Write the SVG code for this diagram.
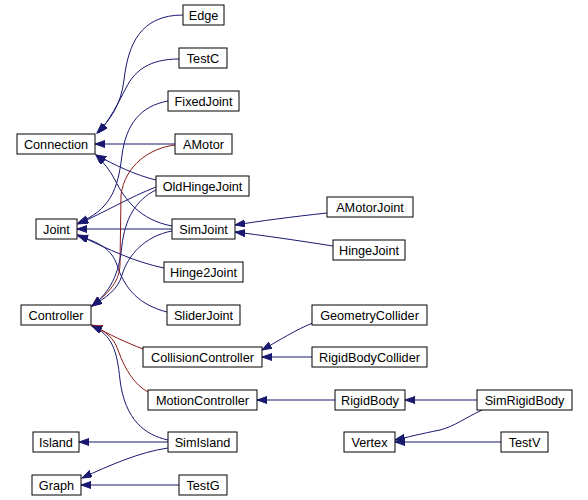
<svg xmlns="http://www.w3.org/2000/svg" width="588" height="500" viewBox="0 0 588 500">
<defs>
<style>
.n rect{fill:#fff;stroke:#000;stroke-width:1}
.n text{font-family:"Liberation Sans",Arial,Helvetica,sans-serif;font-size:12.7px;fill:#000;text-anchor:middle}
.e path{fill:none;stroke-width:1}
.b{stroke:#191970;marker-end:url(#ab)}
.r{stroke:#8b1a1a;marker-end:url(#ar)}
</style>
<marker id="ab" markerUnits="userSpaceOnUse" markerWidth="11" markerHeight="8" refX="10" refY="3.5" orient="auto"><path d="M0,0 L10,3.5 L0,7 z" fill="#191970" stroke="#191970"/></marker>
<marker id="ar" markerUnits="userSpaceOnUse" markerWidth="11" markerHeight="8" refX="10" refY="3.5" orient="auto"><path d="M0,0 L10,3.5 L0,7 z" fill="#8b1a1a" stroke="#8b1a1a"/></marker>
</defs>
<rect width="588" height="500" fill="#fff"/>
<g id="connectors" class="e">
<path class="b" d="M183,15 C140,15 128,45 124,80 C121,105 110,120 97,133"/>
<path class="b" d="M179,59 C150,59 135,70 126,88 C118,103 110,120 98,133"/>
<path class="b" d="M175,144 L95,144"/>
<path class="b" d="M156,180 C135,175 115,165 96,155"/>
<path class="b" d="M172,226 C140,220 125,200 115,180 C110,170 103,162 96,155"/>
<path class="b" d="M168,101 C140,106 126,125 122,155 C118,190 110,210 78,223"/>
<path class="b" d="M156,187 C130,197 105,212 78,224"/>
<path class="b" d="M172,229 L77,229"/>
<path class="b" d="M164,268 C135,262 110,250 78,235"/>
<path class="b" d="M167,312 C140,305 125,290 117,265 C112,250 100,242 78,236"/>
<path class="r" d="M175,145 C150,148 125,165 121,195 L120,265 C119,285 105,295 92,306"/>
<path class="b" d="M156,190 C135,200 125,220 122,245 C119,275 110,292 92,306"/>
<path class="b" d="M172,231 C145,236 128,255 122,275 C118,290 105,298 92,306"/>
<path class="r" d="M143,349 C125,342 110,335 92,325"/>
<path class="r" d="M148,392 C135,385 125,370 118,350 C114,338 105,330 92,326"/>
<path class="b" d="M168,440 C145,435 125,420 120,380 C117,350 112,335 92,326"/>
<path class="b" d="M168,442 L79,442"/>
<path class="b" d="M168,448 C140,452 110,465 82,478"/>
<path class="b" d="M179,485 L81,485"/>
<path class="b" d="M327,213 C290,217 260,221 235,225"/>
<path class="b" d="M333,246 C295,240 260,235 235,232"/>
<path class="b" d="M315,322 C295,330 280,340 262,350"/>
<path class="b" d="M312,357 L262,357"/>
<path class="b" d="M335,400 L257,400"/>
<path class="b" d="M477,400 L405,400"/>
<path class="b" d="M482,410 C465,418 455,426 440,430 C420,434 408,437 395,440"/>
<path class="b" d="M501,442 L395,442"/>
</g>
<g id="Edge" class="n"><rect x="183" y="5" width="41" height="20"/><text x="203.5" y="19.5">Edge</text></g>
<g id="TestC" class="n"><rect x="179" y="48" width="48" height="20"/><text x="203" y="62.5">TestC</text></g>
<g id="FixedJoint" class="n"><rect x="168" y="91" width="71" height="20"/><text x="203.5" y="105.5">FixedJoint</text></g>
<g id="AMotor" class="n"><rect x="175" y="134" width="57" height="20"/><text x="203.5" y="148.5">AMotor</text></g>
<g id="Connection" class="n"><rect x="17" y="134" width="78" height="20"/><text x="56" y="148.5">Connection</text></g>
<g id="OldHingeJoint" class="n"><rect x="156" y="176" width="93" height="20"/><text x="202.5" y="190.5">OldHingeJoint</text></g>
<g id="Joint" class="n"><rect x="36" y="219" width="41" height="20"/><text x="56.5" y="233.5">Joint</text></g>
<g id="SimJoint" class="n"><rect x="172" y="219" width="63" height="20"/><text x="203.5" y="233.5">SimJoint</text></g>
<g id="Hinge2Joint" class="n"><rect x="164" y="262" width="79" height="20"/><text x="203.5" y="276.5">Hinge2Joint</text></g>
<g id="Controller" class="n"><rect x="21" y="305" width="70" height="20"/><text x="56" y="319.5">Controller</text></g>
<g id="SliderJoint" class="n"><rect x="167" y="305" width="73" height="20"/><text x="203.5" y="319.5">SliderJoint</text></g>
<g id="CollisionController" class="n"><rect x="143" y="347" width="119" height="20"/><text x="202.5" y="361.5">CollisionController</text></g>
<g id="MotionController" class="n"><rect x="148" y="390" width="109" height="20"/><text x="202.5" y="404.5">MotionController</text></g>
<g id="Island" class="n"><rect x="33" y="432" width="46" height="20"/><text x="56" y="446.5">Island</text></g>
<g id="SimIsland" class="n"><rect x="168" y="432" width="69" height="20"/><text x="202.5" y="446.5">SimIsland</text></g>
<g id="Graph" class="n"><rect x="32" y="475" width="49" height="20"/><text x="56.5" y="489.5">Graph</text></g>
<g id="TestG" class="n"><rect x="179" y="475" width="48" height="20"/><text x="203" y="489.5">TestG</text></g>
<g id="AMotorJoint" class="n"><rect x="327" y="197" width="86" height="20"/><text x="370" y="211.5">AMotorJoint</text></g>
<g id="HingeJoint" class="n"><rect x="333" y="240" width="72" height="20"/><text x="369" y="254.5">HingeJoint</text></g>
<g id="GeometryCollider" class="n"><rect x="312" y="305" width="115" height="20"/><text x="369.5" y="319.5">GeometryCollider</text></g>
<g id="RigidBodyCollider" class="n"><rect x="312" y="347" width="115" height="20"/><text x="369.5" y="361.5">RigidBodyCollider</text></g>
<g id="RigidBody" class="n"><rect x="335" y="390" width="70" height="20"/><text x="370" y="404.5">RigidBody</text></g>
<g id="SimRigidBody" class="n"><rect x="477" y="390" width="95" height="20"/><text x="524.5" y="404.5">SimRigidBody</text></g>
<g id="Vertex" class="n"><rect x="344" y="432" width="51" height="20"/><text x="369.5" y="446.5">Vertex</text></g>
<g id="TestV" class="n"><rect x="501" y="432" width="47" height="20"/><text x="524.5" y="446.5">TestV</text></g>
</svg>
